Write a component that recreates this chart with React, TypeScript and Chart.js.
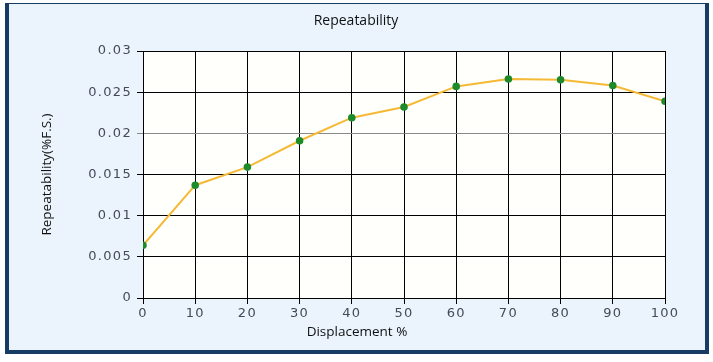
import React, { useEffect, useRef } from "react";
import { Chart, registerables } from "chart.js";

Chart.register(...registerables);

const displacement = [0, 10, 20, 30, 40, 50, 60, 70, 80, 90, 100];
const repeatability = [0.0064, 0.0137, 0.0159, 0.0191, 0.0219, 0.0232, 0.0257, 0.0266, 0.0265, 0.0258, 0.0239];
const chartTitle = "Repeatability";
const xTitle = "Displacement %";
const yTitle = "Repeatability(%F.S.)";

const W = 713;
const H = 362;

export default function App() {
  const ref = useRef<HTMLCanvasElement | null>(null);
  useEffect(() => {
    document.body.style.margin = "0";
    const canvas = ref.current!;
    const textPlugin = {
      id: "decor",
      beforeInit(chart: any) {
        (chart.ctx as any).letterSpacing = "1.3px";
      },
      beforeDraw(chart: any) {
        const { ctx, chartArea } = chart;
        (ctx as any).letterSpacing = "1.3px";
        ctx.save();
        ctx.fillStyle = "#fffffc";
        ctx.fillRect(chartArea.left, chartArea.top, chartArea.right - chartArea.left, chartArea.bottom - chartArea.top);
        ctx.restore();
      },
      afterDraw(chart: any) {
        const { ctx, chartArea } = chart;
        ctx.save();
        (ctx as any).letterSpacing = "0px";
        ctx.fillStyle = "#111";
        ctx.textAlign = "center";
        ctx.textBaseline = "middle";
        ctx.font = "14px 'Open Sans'";
        ctx.fillText(chartTitle, 356, 21);
        ctx.font = "13.5px 'Open Sans'";
        ctx.fillText(xTitle, 357, 332);
        ctx.translate(47, (chartArea.top + chartArea.bottom) / 2);
        ctx.rotate(-Math.PI / 2);
        ctx.fillText(yTitle, 0, 0);
        ctx.restore();
      },
    };
    const tickFont = { family: "'DejaVu Sans'", size: 13 };
    const chart = new Chart(canvas, {
      type: "line",
      data: {
        datasets: [
          {
            data: displacement.map((x, i) => ({ x, y: repeatability[i] })),
            borderColor: "#f6b935",
            borderWidth: 2,
            pointBackgroundColor: "#1d8b2c",
            pointBorderColor: "#1d8b2c",
            pointRadius: 2.8,
            tension: 0,
          },
        ],
      },
      options: {
        animation: false,
        responsive: false,
        layout: { padding: { top: 51, right: 48, left: 0, bottom: 0 } },
        plugins: { legend: { display: false }, tooltip: { enabled: false }, title: { display: false } },
        scales: {
          x: {
            type: "linear",
            min: 0,
            max: 100,
            ticks: { stepSize: 10, color: "#444a58", font: tickFont, padding: 2 },
            grid: { color: "#000", lineWidth: 1, tickLength: 6, drawOnChartArea: true },
            border: { color: "#000", width: 1 },
            afterFit(s: any) {
              s.height = 64;
            },
          },
          y: {
            min: 0,
            max: 0.03,
            ticks: {
              stepSize: 0.005,
              color: "#444a58",
              font: tickFont,
              padding: 5,
              callback: (v: any) => String(Math.round(Number(v) * 1000) / 1000),
            },
            grid: {
              color: (c: any) => (c.tick && Math.abs(c.tick.value - 0.02) < 1e-9 ? "#8a8a8a" : "#000"),
              lineWidth: 1,
              tickLength: 6,
            },
            border: { color: "#000", width: 1 },
            afterFit(s: any) {
              s.width = 143;
            },
          },
        },
      },
      plugins: [textPlugin],
    });
    return () => chart.destroy();
  }, []);
  return (
    <div style={{ position: "relative", width: W, height: H, background: "#fff" }}>
      <div
        style={{
          position: "absolute",
          left: 5,
          top: 3,
          width: 696,
          height: 346,
          background: "#ebf4fd",
          borderLeft: "4px solid #173c63",
          borderTop: "1px solid #173c63",
          borderRight: "4px solid #173c63",
          borderBottom: "4px solid #173c63",
        }}
      />
      <canvas ref={ref} width={W} height={H} style={{ position: "absolute", left: 0, top: 0, width: W, height: H }} />
    </div>
  );
}
